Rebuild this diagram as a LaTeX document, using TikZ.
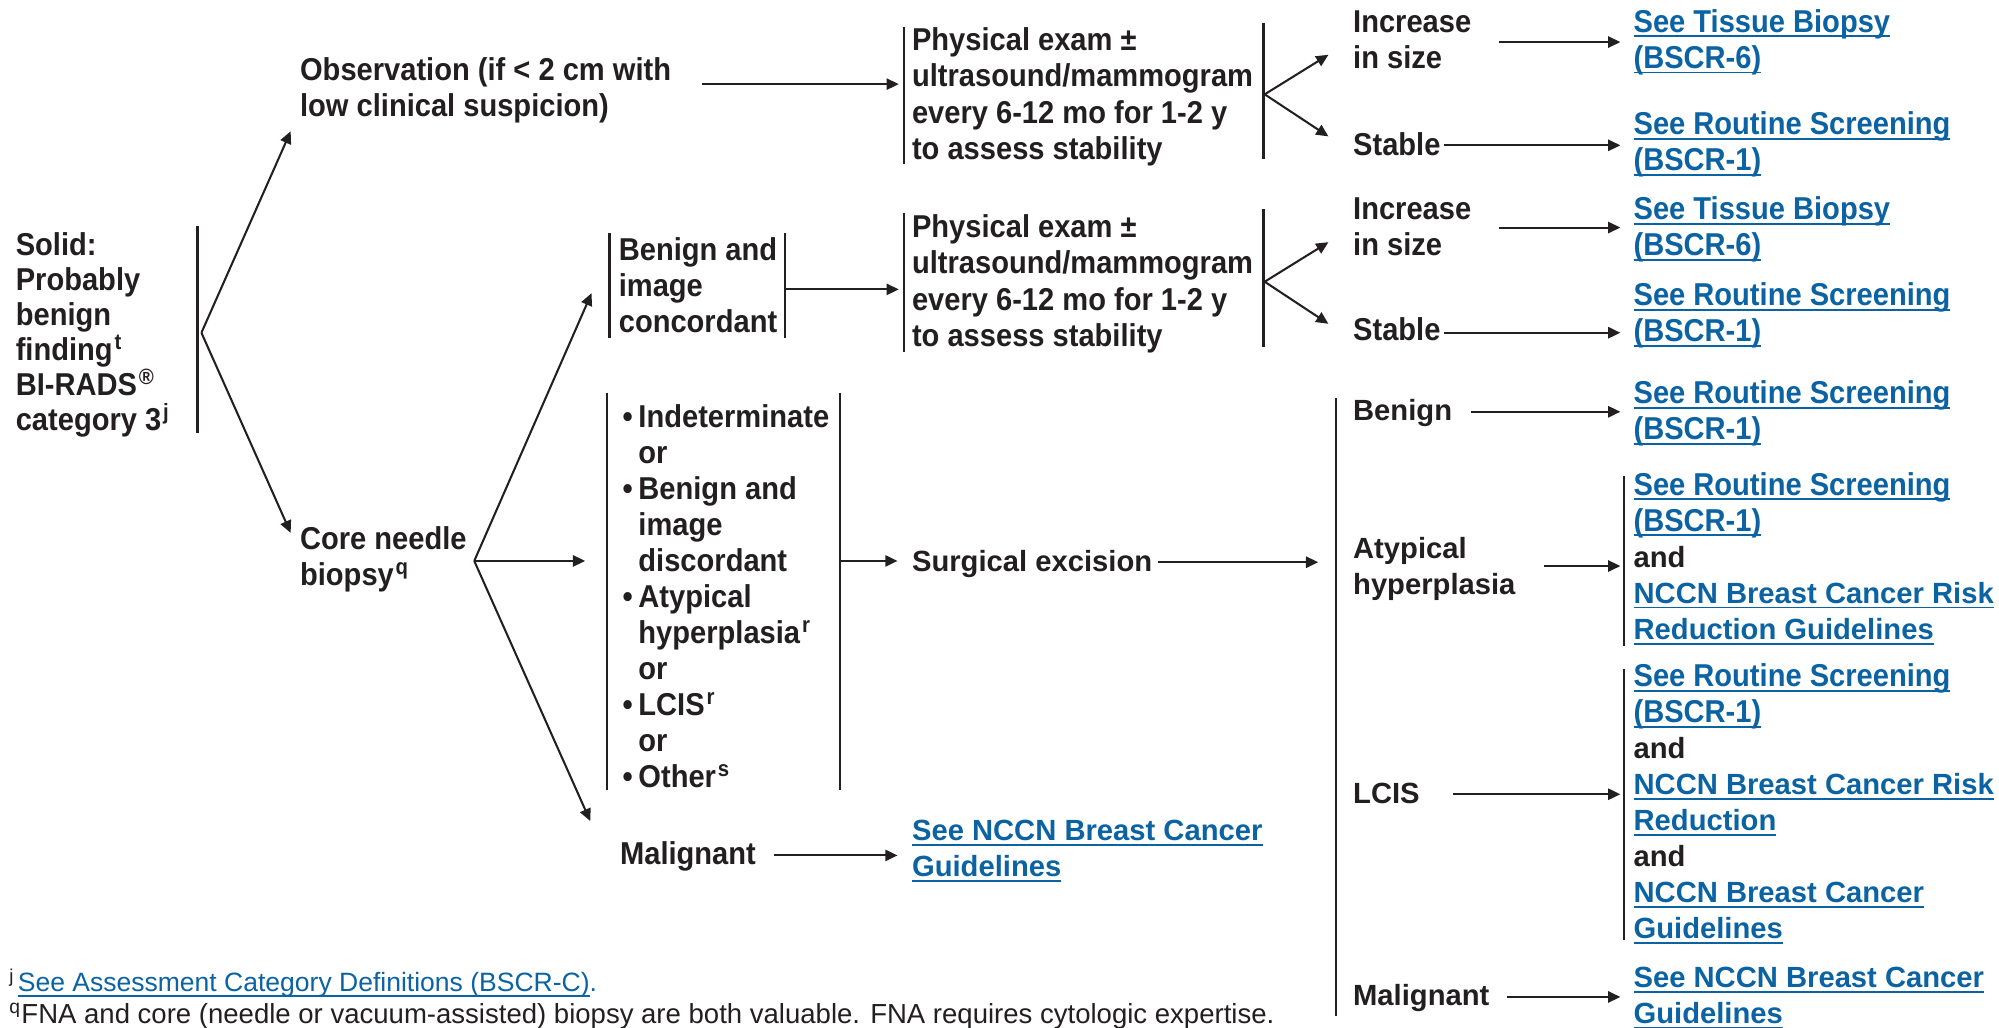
\documentclass[tikz,border=0pt]{standalone}
\usepackage{fontspec}
\setmainfont{Liberation Sans}
\newfontfamily\condfam[FakeStretch=0.92]{Liberation Sans}
\usetikzlibrary{arrows.meta}

\definecolor{ink}{HTML}{231F20}
\definecolor{linkblue}{RGB}{11,99,164}

% link text: blue, with a rule just under the baseline
\newcommand{\lk}[1]{{\color{linkblue}\setbox0\hbox{#1}\rlap{\rule[-2.05pt]{\wd0}{0.75pt}}\box0}}
% footnote marks
\newcommand{\sups}[1]{\kern0.06em\textsuperscript{#1}}
% narrow face used in most boxes
\newcommand{\cnd}{\condfam\bfseries\fontsize{12.4}{14.15}\selectfont}
\newcommand{\rgl}{\bfseries\fontsize{11.45}{14.15}\selectfont}
\newcommand{\tightlines}{\lineskiplimit=-20pt\relax}
% bullets in the result list
\newcommand{\bul}{\makebox[6.2pt][l]{•}}
\newcommand{\ind}{\hspace*{6.2pt}}

% multi-line labels are placed by the baseline of their last line
\tikzset{
  lbl/.style={inner sep=0pt, anchor=base west, align=left, text=ink},
  cond/.style={lbl, font={\cnd\tightlines}},
  reg/.style={lbl, font={\rgl\tightlines}},
  note/.style={lbl, font={\fontsize{10.4}{12.5}\selectfont}},
  arr/.style={draw=ink, line width=0.8pt, -{Triangle[length=4.8pt,width=4.4pt]}},
  bar/.style={draw=ink, line width=0.9pt},
}

\begin{document}
\begin{tikzpicture}[x=0.5pt,y=-0.5pt]
\useasboundingbox (0,0) rectangle (1568,806);
\fill[white] (0,0) rectangle (1568,806);

% ---------- text blocks ----------
\node[cond, font={\cnd\fontsize{12.4}{13.7}\selectfont\tightlines}] (solid) at (12,337.5) {Solid:\\Probably\\benign\\finding\sups{t}\\BI-RADS\sups{®}\\category 3\sups{j}};
\node[cond] (obs) at (235,91.5) {Observation (if < 2 cm with\\low clinical suspicion)};
\node[cond] (core) at (235,459.3) {Core needle\\biopsy\sups{q}};

\node[cond] (pe1) at (715,124.8) {Physical exam ±\\ultrasound/mammogram\\every 6-12 mo for 1-2 y\\to assess stability};
\node[cond] (pe2) at (715,271.5) {Physical exam ±\\ultrasound/mammogram\\every 6-12 mo for 1-2 y\\to assess stability};

\node[cond] (inc1) at (1061,53.5) {Increase\\in size};
\node[cond] (stab1) at (1061,122) {Stable};
\node[cond] (inc2) at (1061,200.3) {Increase\\in size};
\node[cond] (stab2) at (1061,267) {Stable};

\node[cond] (tb1) at (1281,53.5) {\lk{See Tissue Biopsy}\\\lk{(BSCR-6)}};
\node[cond] (rs1) at (1281,134) {\lk{See Routine Screening}\\\lk{(BSCR-1)}};
\node[cond] (tb2) at (1281,200.5) {\lk{See Tissue Biopsy}\\\lk{(BSCR-6)}};
\node[cond] (rs2) at (1281,268) {\lk{See Routine Screening}\\\lk{(BSCR-1)}};

\node[cond] (bic) at (485,260.6) {Benign and\\image\\concordant};
\node[cond] (list) at (488,618) {\bul Indeterminate\\\ind or\\\bul Benign and\\\ind image\\\ind discordant\\\bul Atypical\\\ind hyperplasia\sups{r}\\\ind or\\\bul LCIS\sups{r}\\\ind or\\\bul Other\sups{s}};
\node[cond] (malM) at (486,678) {Malignant};
\node[reg] (nccnM) at (715,687.5) {\lk{See NCCN Breast Cancer}\\\lk{Guidelines}};
\node[reg] (surg) at (715,448) {Surgical excision};

\node[reg] (benR) at (1061,330) {Benign};
\node[cond] (rs3) at (1281,345) {\lk{See Routine Screening}\\\lk{(BSCR-1)}};
\node[reg] (atyp) at (1061,466) {Atypical\\hyperplasia};
\node[reg] (atypL) at (1281,501.5) {{\cnd\lk{See Routine Screening}}\\{\cnd\lk{(BSCR-1)}}\\and\\\lk{NCCN Breast Cancer Risk}\\\lk{Reduction Guidelines}};
\node[reg] (lcis) at (1061,630) {LCIS};
\node[reg] (lcisL) at (1281,736.5) {{\cnd\lk{See Routine Screening}}\\{\cnd\lk{(BSCR-1)}}\\and\\\lk{NCCN Breast Cancer Risk}\\\lk{Reduction}\\and\\\lk{NCCN Breast Cancer}\\\lk{Guidelines}};
\node[reg] (malR) at (1061,789) {Malignant};
\node[reg] (nccnR) at (1281,803) {\lk{See NCCN Breast Cancer}\\\lk{Guidelines}};

\node[note] (fnj) at (7,778) {\textsuperscript{j}\kern1.2pt\lk{See Assessment Category Definitions (BSCR-C)}{\color{linkblue}.}};
\node[note, font={\fontsize{10.8}{12.5}\selectfont}] (fnq) at (7,803) {\textsuperscript{q}FNA and core (needle or vacuum-assisted) biopsy are both valuable. FNA requires cytologic expertise.};

% ---------- bracket bars ----------
\draw[bar] (155,177) -- (155,340);
\draw[bar] (478,183) -- (478,265);
\draw[bar] (616,183) -- (616,265);
\draw[bar] (709,21) -- (709,129);
\draw[bar] (991,18) -- (991,125);
\draw[bar] (709,167) -- (709,276);
\draw[bar] (991,164) -- (991,272);
\draw[bar] (476,308) -- (476,620);
\draw[bar] (659,308) -- (659,620);
\draw[bar] (1048,312) -- (1048,797);
\draw[bar] (1274,373) -- (1274,507);
\draw[bar] (1274,525) -- (1274,737);

% ---------- connector points ----------
\coordinate (f0) at (158,261);
\coordinate (obsIn) at (228,103);
\coordinate (coreIn) at (228,418);
\coordinate (obsOut) at (551,66);
\coordinate (pe1In) at (705,66);
\coordinate (pe1Out) at (992,74);
\coordinate (inc1In) at (1042,43);
\coordinate (stab1In) at (1042,107);
\coordinate (inc1Out) at (1176,33);
\coordinate (tb1In) at (1271,33);
\coordinate (stab1Out) at (1133,114);
\coordinate (rs1In) at (1271,114);
\coordinate (pe2Out) at (992,221);
\coordinate (inc2In) at (1042,190);
\coordinate (stab2In) at (1042,254);
\coordinate (inc2Out) at (1176,178.5);
\coordinate (tb2In) at (1271,178.5);
\coordinate (stab2Out) at (1133,261);
\coordinate (rs2In) at (1271,261);
\coordinate (f1) at (372,440);
\coordinate (bicIn) at (464,230);
\coordinate (listIn) at (459,440);
\coordinate (malMIn) at (463,644);
\coordinate (bicOut) at (616,227);
\coordinate (pe2In) at (705,227);
\coordinate (listOut) at (659,440);
\coordinate (surgIn) at (704,440);
\coordinate (surgOut) at (908,441);
\coordinate (resIn) at (1034,441);
\coordinate (malMOut) at (607,671);
\coordinate (nccnMIn) at (704,671);
\coordinate (benROut) at (1154,323);
\coordinate (rs3In) at (1271,323);
\coordinate (atypOut) at (1211,444);
\coordinate (atypLIn) at (1271,444);
\coordinate (lcisOut) at (1140,623);
\coordinate (lcisLIn) at (1271,623);
\coordinate (malROut) at (1182,782);
\coordinate (nccnRIn) at (1271,782);

% ---------- connectors ----------
\draw[arr] (f0) -- (obsIn);
\draw[arr] (f0) -- (coreIn);
\draw[arr] (obsOut) -- (pe1In);
\draw[arr] (pe1Out) -- (inc1In);
\draw[arr] (pe1Out) -- (stab1In);
\draw[arr] (inc1Out) -- (tb1In);
\draw[arr] (stab1Out) -- (rs1In);
\draw[arr] (pe2Out) -- (inc2In);
\draw[arr] (pe2Out) -- (stab2In);
\draw[arr] (inc2Out) -- (tb2In);
\draw[arr] (stab2Out) -- (rs2In);
\draw[arr] (f1) -- (bicIn);
\draw[arr] (f1) -- (listIn);
\draw[arr] (f1) -- (malMIn);
\draw[arr] (bicOut) -- (pe2In);
\draw[arr] (listOut) -- (surgIn);
\draw[arr] (surgOut) -- (resIn);
\draw[arr] (malMOut) -- (nccnMIn);
\draw[arr] (benROut) -- (rs3In);
\draw[arr] (atypOut) -- (atypLIn);
\draw[arr] (lcisOut) -- (lcisLIn);
\draw[arr] (malROut) -- (nccnRIn);
\end{tikzpicture}
\end{document}
